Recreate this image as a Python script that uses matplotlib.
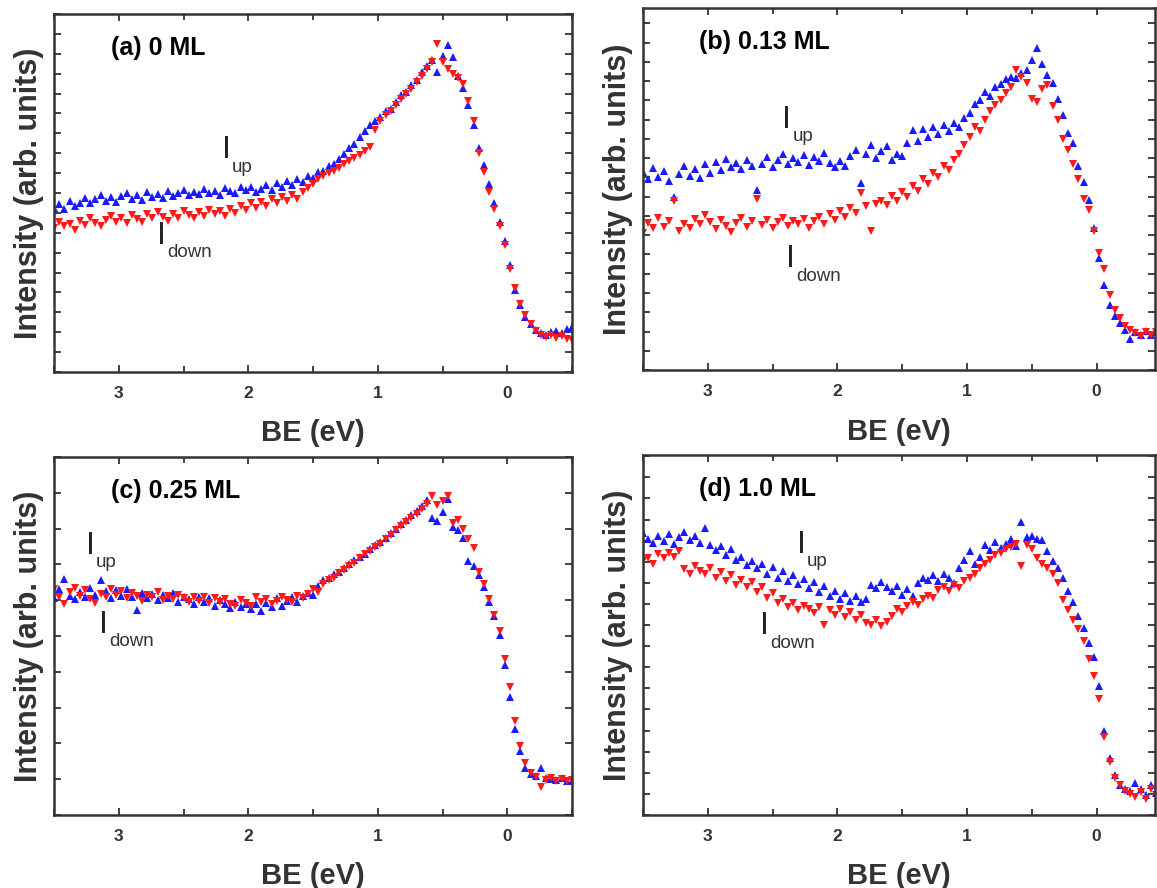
import numpy as np
import matplotlib
matplotlib.use("Agg")
import matplotlib.pyplot as plt
from matplotlib.ticker import MultipleLocator, NullFormatter, FixedLocator

plt.rcParams['font.family'] = ['Liberation Sans', 'DejaVu Sans']

# binding energy grid (eV), 0.04 eV steps from 3.5 down to -0.5
be = np.round(3.5 - 0.04 * np.arange(101), 2)

# (a) 0 ML
a_up = [4.12, 4.22, 4.10, 4.30, 4.18, 4.26, 4.38, 4.24, 4.34, 4.45,
        4.30, 4.40, 4.28, 4.42, 4.50, 4.36, 4.44, 4.32, 4.52, 4.40,
        4.48, 4.38, 4.55, 4.42, 4.50, 4.58, 4.44, 4.53, 4.47, 4.60,
        4.50, 4.56, 4.46, 4.62, 4.55, 4.50, 4.64, 4.57, 4.66, 4.52,
        4.60, 4.70, 4.58, 4.74, 4.66, 4.80, 4.70, 4.86, 4.78, 4.92,
        4.88, 5.02, 5.06, 5.18, 5.22, 5.36, 5.48, 5.62, 5.74, 5.90,
        6.05, 6.22, 6.30, 6.40, 6.55, 6.62, 6.78, 6.95, 7.05, 7.22,
        7.35, 7.55, 7.70, 7.85, 7.55, 7.95, 8.22, 7.92, 7.45, 7.15,
        6.72, 6.20, 5.62, 5.20, 4.72, 4.25, 3.78, 3.30, 2.68, 2.05,
        1.68, 1.38, 1.20, 1.06, 0.98, 0.94, 1.00, 1.04, 0.98, 1.08, 1.12]
a_down = [3.62, 3.78, 3.66, 3.72, 3.58, 3.80, 3.70, 3.86, 3.74, 3.66,
          3.82, 3.92, 3.78, 3.88, 3.74, 3.95, 3.84, 3.78, 3.96, 3.86,
          4.02, 3.90, 3.80, 3.98, 3.88, 4.05, 3.94, 3.86, 4.02, 3.92,
          4.08, 3.96, 4.05, 3.92, 4.10, 4.00, 4.18, 4.06, 4.24, 4.12,
          4.28, 4.18, 4.34, 4.24, 4.40, 4.30, 4.44, 4.36, 4.52, 4.62,
          4.72, 4.84, 4.92, 5.00, 5.06, 5.14, 5.22, 5.30, 5.38, 5.46,
          5.55, 5.65, 6.08, 6.30, 6.45, 6.55, 6.70, 6.85, 6.98, 7.12,
          7.28, 7.45, 7.62, 7.80, 8.25, 7.78, 7.62, 7.48, 7.40, 7.25,
          6.80, 6.30, 5.50, 5.02, 4.52, 4.10, 3.68, 3.18, 2.58, 2.10,
          1.72, 1.42, 1.20, 1.02, 0.92, 0.88, 0.94, 0.86, 0.90, 0.84, 0.80]

# (b) 0.13 ML
b_up = [5.15, 4.95, 5.25, 5.02, 5.18, 4.92, 4.50, 5.10, 5.30, 5.05,
        5.22, 4.98, 5.35, 5.12, 5.40, 5.20, 5.48, 5.26, 5.38, 5.22,
        5.45, 5.30, 4.68, 5.36, 5.52, 5.28, 5.46, 5.62, 5.35, 5.50,
        5.40, 5.58, 5.32, 5.52, 5.44, 5.64, 5.38, 5.28, 5.42, 5.30,
        5.55, 5.72, 4.85, 5.60, 5.85, 5.50, 5.68, 5.82, 5.45, 5.62,
        5.55, 5.90, 6.22, 5.95, 6.25, 6.05, 6.30, 6.12, 6.35, 6.20,
        6.42, 6.30, 6.55, 6.68, 6.90, 7.00, 7.22, 7.12, 7.35, 7.42,
        7.55, 7.62, 7.58, 7.72, 7.80, 8.05, 8.36, 7.95, 7.65, 7.45,
        7.05, 6.62, 6.15, 5.90, 5.30, 4.88, 4.42, 3.70, 2.90, 2.20,
        1.70, 1.40, 1.22, 1.05, 0.80, 0.98, 0.90, 1.02, 0.92, 0.98, 1.00]
b_down = [3.55, 3.82, 3.68, 3.95, 3.72, 3.88, 4.40, 3.62, 3.80, 3.70,
          3.92, 3.78, 4.02, 3.85, 3.66, 3.90, 3.74, 3.58, 3.82, 3.96,
          3.72, 3.88, 4.43, 3.76, 3.90, 3.70, 3.84, 3.96, 3.74, 3.88,
          3.78, 3.92, 3.70, 3.86, 3.98, 3.80, 4.05, 3.90, 4.12, 3.98,
          4.20, 4.08, 4.60, 4.25, 3.60, 4.30, 4.40, 4.28, 4.52, 4.40,
          4.62, 4.50, 4.78, 4.65, 4.95, 4.82, 5.12, 5.02, 5.30, 5.20,
          5.45, 5.62, 5.85, 6.05, 6.30, 6.20, 6.50, 6.72, 6.88, 7.00,
          7.18, 7.35, 7.80, 7.62, 7.45, 7.05, 6.95, 7.30, 7.40, 6.85,
          6.50, 6.00, 5.70, 5.35, 4.95, 4.45, 4.15, 3.60, 3.05, 2.62,
          1.95, 1.55, 1.35, 1.15, 1.05, 0.95, 0.88, 0.98, 0.90, 1.00, 0.95]

# (c) 0.25 ML
c_up = [6.05, 6.30, 6.58, 6.12, 6.02, 6.22, 6.10, 6.35, 6.15, 6.55,
        6.25, 6.05, 6.28, 6.12, 6.30, 6.08, 5.72, 6.20, 6.05, 6.18,
        6.00, 6.15, 6.06, 6.20, 5.95, 6.10, 6.02, 5.90, 6.08, 5.96,
        6.05, 5.85, 6.00, 5.88, 5.78, 5.95, 5.82, 5.90, 5.75, 5.88,
        5.70, 5.92, 5.80, 6.05, 5.85, 5.98, 6.08, 5.95, 6.12, 6.20,
        6.15, 6.40, 6.55, 6.62, 6.72, 6.80, 6.90, 7.00, 7.12, 7.22,
        7.30, 7.42, 7.55, 7.62, 7.75, 7.88, 8.00, 8.12, 8.25, 8.38,
        8.48, 8.62, 8.80, 8.30, 8.22, 8.45, 8.82, 8.05, 7.95, 7.75,
        7.10, 6.95, 6.70, 6.38, 5.95, 5.55, 5.02, 4.20, 3.30, 2.40,
        1.78, 1.32, 1.15, 1.08, 1.31, 1.02, 1.00, 0.98, 1.02, 0.96, 0.94]
c_down = [6.30, 6.08, 5.88, 6.22, 6.35, 6.12, 6.28, 6.02, 5.92, 6.18,
          6.08, 6.32, 6.15, 6.25, 6.05, 6.20, 6.12, 5.98, 6.15, 6.08,
          6.22, 6.00, 6.12, 6.02, 6.15, 6.05, 5.95, 6.10, 5.98, 6.08,
          5.92, 6.05, 5.95, 6.02, 5.90, 5.85, 6.00, 5.92, 5.85, 6.08,
          5.95, 6.02, 5.90, 5.98, 6.10, 6.00, 5.95, 6.12, 6.05, 6.18,
          6.30, 6.22, 6.45, 6.55, 6.62, 6.75, 6.85, 6.95, 7.05, 7.18,
          7.28, 7.38, 7.48, 7.58, 7.70, 7.82, 7.95, 8.08, 8.18, 8.30,
          8.42, 8.55, 8.70, 8.90, 8.65, 8.78, 8.92, 8.15, 8.25, 7.98,
          7.70, 7.45, 6.80, 6.45, 6.02, 5.60, 5.15, 4.35, 3.58, 2.62,
          1.92, 1.45, 1.18, 1.05, 0.78, 0.98, 1.02, 0.96, 1.00, 0.95, 0.98]

# (d) 1.0 ML
d_up = [6.68, 6.55, 6.45, 6.62, 6.50, 6.66, 6.42, 6.58, 6.70, 6.52,
        6.62, 6.45, 6.80, 6.40, 6.28, 6.38, 6.15, 6.30, 6.05, 6.12,
        5.92, 6.02, 5.85, 5.95, 5.72, 5.88, 5.62, 5.78, 5.55, 5.68,
        5.48, 5.60, 5.38, 5.52, 5.28, 5.42, 5.18, 5.30, 5.12, 5.25,
        5.08, 5.20, 5.05, 5.12, 5.45, 5.38, 5.52, 5.40, 5.30, 5.42,
        5.22, 5.35, 5.20, 5.50, 5.62, 5.58, 5.68, 5.55, 5.72, 5.62,
        5.50, 5.85, 6.05, 6.25, 5.95, 6.12, 6.40, 6.28, 6.48, 6.32,
        6.42, 6.55, 6.38, 6.95, 6.58, 6.62, 6.55, 6.52, 6.25, 6.02,
        5.85, 5.62, 5.30, 5.05, 4.72, 4.42, 4.08, 3.75, 3.05, 2.00,
        1.35, 0.95, 0.72, 0.62, 0.58, 0.75, 0.62, 0.48, 0.70, 0.52, 0.60]
d_down = [6.02, 6.10, 5.95, 6.18, 6.08, 6.22, 6.12, 6.25, 5.82, 5.70,
          5.90, 5.78, 5.72, 5.85, 5.62, 5.75, 5.55, 5.68, 5.45, 5.58,
          5.40, 5.52, 5.28, 5.40, 5.15, 5.25, 5.02, 5.12, 4.92, 5.02,
          4.85, 4.95, 4.88, 4.78, 4.92, 4.50, 4.85, 4.75, 4.88, 4.68,
          4.80, 4.62, 4.75, 4.55, 4.50, 4.62, 4.48, 4.58, 4.72, 4.88,
          4.80, 4.95, 5.05, 4.98, 5.12, 5.20, 5.15, 5.32, 5.40, 5.30,
          5.45, 5.38, 5.55, 5.62, 5.72, 5.85, 5.95, 6.05, 6.15, 6.22,
          6.30, 6.36, 6.42, 5.90, 6.40, 6.30, 6.08, 5.95, 5.85, 5.70,
          5.50, 5.10, 4.85, 4.62, 4.40, 4.12, 3.70, 3.30, 2.75, 1.85,
          1.25, 0.88, 0.70, 0.58, 0.50, 0.42, 0.55, 0.38, 0.62, 0.48, 0.55]

titles = ['(a) 0 ML', '(b) 0.13 ML', '(c) 0.25 ML', '(d) 1.0 ML']
ups = [a_up, b_up, c_up, d_up]
downs = [a_down, b_down, c_down, d_down]
ytops = [9.0, 9.4, 10.0, 8.53]
ysteps = [0.5, 0.5, 1.0, 0.5]
xrights = [-0.5, -0.45, -0.5, -0.45]
# (x, y) of the "I" in the I_up and I_down labels
up_pos = [(2.17, 5.57), (2.39, 6.5), (3.22, 7.52), (2.28, 6.4)]
down_pos = [(2.67, 3.42), (2.36, 2.87), (3.12, 5.3), (2.56, 4.47)]

rects = [[0.0467, 0.5811, 0.4477, 0.4032],
         [0.5557, 0.5833, 0.4425, 0.4077],
         [0.0467, 0.0822, 0.4477, 0.4032],
         [0.5557, 0.0822, 0.4425, 0.4054]]

fig = plt.figure(figsize=(11.57, 8.88), dpi=100)
dark = '#333333'

for k in range(4):
    ax = fig.add_axes(rects[k])
    ax.plot(be, ups[k], '^', color='#1a1aff', ms=6, mew=0)
    ax.plot(be, downs[k], 'v', color='#ff1a1a', ms=6, mew=0)

    ax.set_xlim(3.5, xrights[k])
    ax.set_ylim(0, ytops[k])
    ax.xaxis.set_major_locator(FixedLocator([3, 2, 1, 0]))
    ax.xaxis.set_minor_locator(MultipleLocator(0.5))
    ax.yaxis.set_major_locator(MultipleLocator(ysteps[k]))
    ax.yaxis.set_major_formatter(NullFormatter())
    ax.tick_params(which='both', direction='in', top=True, right=True,
                   color=dark, width=1.3)
    ax.tick_params(which='major', length=5)
    ax.tick_params(which='minor', length=4)
    ax.tick_params(axis='x', labelsize=12.5, pad=10, labelcolor=dark)
    for lab in ax.get_xticklabels():
        lab.set_fontweight('bold')
    for s in ax.spines.values():
        s.set_color(dark)
        s.set_linewidth(1.8)

    ax.set_ylabel('Intensity (arb. units)', fontsize=22, fontweight='bold',
                  color=dark)
    ax.yaxis.set_label_coords(-0.02, 0.5)
    ax.text(0.5, -0.17, 'BE (eV)', transform=ax.transAxes, ha='center',
            va='center', fontsize=21, fontweight='bold', color=dark)
    ax.text(0.11, 0.905, titles[k], transform=ax.transAxes, ha='left',
            va='center', fontsize=18, fontweight='bold', color='black')

    # I_up / I_down labels
    for (lx, ly), sub in [(up_pos[k], 'up'), (down_pos[k], 'down')]:
        ax.text(lx, ly, 'I', ha='center', va='center', fontsize=23,
                color='#222222')
        ax.annotate(sub, xy=(lx, ly), xytext=(4, -12),
                    textcoords='offset points', ha='left', va='center',
                    fontsize=13.5, color='#333333')

fig.savefig('out.png', dpi=100)
